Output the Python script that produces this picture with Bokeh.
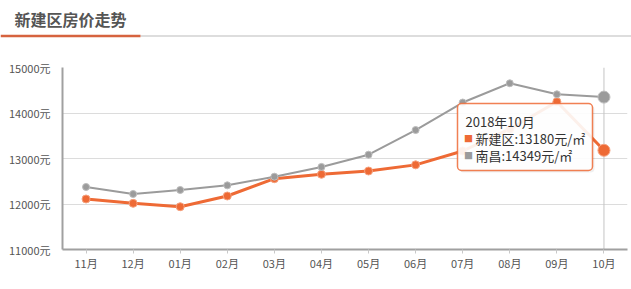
from bokeh.plotting import figure
from bokeh.models import FactorRange, Range1d, FixedTicker, BoxAnnotation, Label
from bokeh.layouts import column
from bokeh.core.properties import value
from bokeh.embed import file_html
from bokeh.resources import INLINE

# ---------------- data ----------------
months = ["11月", "12月", "01月", "02月", "03月", "04月", "05月", "06月", "07月", "08月", "09月", "10月"]
xinjian = [12110, 12015, 11940, 12176, 12556, 12653, 12725, 12860, 13165, 13650, 14248, 13180]
nanchang = [12374, 12220, 12308, 12410, 12600, 12815, 13084, 13626, 14230, 14653, 14411, 14349]
series_names = ["新建区", "南昌"]
y_ticks = [11000, 12000, 13000, 14000, 15000]
y_tick_labels = ["11000元", "12000元", "13000元", "14000元", "15000元"]
title_text = "新建区房价走势"
tooltip_title = "2018年10月"
unit = "元/㎡"

FONT = "Noto Sans CJK SC"
ORANGE = "#ee6a35"
GRAY = "#9b9b9b"
TITLE_ORANGE = "#d6633f"


def no_align(fig):
    if "frame_align" in fig.properties():
        fig.frame_align = False


# ---------------- title strip ----------------
t = figure(width=631, height=45, x_range=Range1d(0, 631), y_range=Range1d(45, 0),
           output_backend="svg", toolbar_location=None, min_border=0,
           x_axis_type=None, y_axis_type=None, outline_line_color=None)
t.grid.visible = False
no_align(t)
t.segment(x0=[140], y0=[35.6], x1=[631], y1=[35.6], line_color="#dddddd", line_width=2)
t.segment(x0=[0], y0=[35.6], x1=[140], y1=[35.6], line_color=TITLE_ORANGE, line_width=2.5)
t.text(x=[14], y=[18.5], text=[title_text], text_font=value(FONT), text_font_style="bold",
       text_font_size="16px", text_color="#555555", text_baseline="middle")

# ---------------- main chart ----------------
p = figure(width=631, height=240, x_range=FactorRange(factors=months),
           y_range=Range1d(y_ticks[0], y_ticks[-1]),
           output_backend="svg", toolbar_location=None,
           min_border_left=62, min_border_right=4, min_border_top=22, min_border_bottom=36)
p.outline_line_color = None
no_align(p)

p.xgrid.grid_line_color = None
p.ygrid.grid_line_color = "#dcdcdc"
p.ygrid.grid_line_width = 1

p.yaxis.ticker = FixedTicker(ticks=y_ticks)
p.yaxis.major_label_overrides = dict(zip(y_ticks, y_tick_labels))
p.yaxis.major_tick_line_color = None
p.yaxis.minor_tick_line_color = None
p.yaxis.major_label_standoff = 6

p.xaxis.major_tick_line_color = "#c8c8c8"
p.xaxis.major_tick_out = 4
p.xaxis.major_tick_in = 0
p.xaxis.major_label_standoff = 1

for ax in (p.xaxis, p.yaxis):
    ax.axis_line_color = "#a0a0a0"
    ax.axis_line_width = 2
    ax.major_label_text_font = FONT
    ax.major_label_text_font_size = "11px"
    ax.major_label_text_color = "#555555"

# hover crosshair at last month
p.segment(x0=[months[-1]], y0=[y_ticks[0]], x1=[months[-1]], y1=[y_ticks[-1]],
          line_color="#c4c4c4", line_width=1)

# series
p.line(months, xinjian, line_color=ORANGE, line_width=3)
p.scatter(months[:-1], xinjian[:-1], size=8, fill_color=ORANGE, line_color="#f6a27f", line_width=1)
p.line(months, nanchang, line_color=GRAY, line_width=2)
p.scatter(months[:-1], nanchang[:-1], size=7, fill_color=GRAY, line_color="#bdbdbd", line_width=1)
p.scatter(months[-1:], xinjian[-1:], size=12, fill_color=ORANGE, line_color="#f6a27f", line_width=1)
p.scatter(months[-1:], nanchang[-1:], size=12, fill_color=GRAY, line_color="#bdbdbd", line_width=1)

# tooltip (screen units relative to frame: x from left, y from bottom)
scr = dict(left_units="screen", right_units="screen", top_units="screen", bottom_units="screen")
p.add_layout(BoxAnnotation(left=397, right=532, top=144, bottom=77, fill_color="#000000",
                           fill_alpha=0.06, line_color=None, border_radius=4, **scr))
p.add_layout(BoxAnnotation(left=395, right=530, top=146, bottom=79,
                           fill_color="white", fill_alpha=0.9,
                           line_color=ORANGE, line_alpha=0.85, line_width=1.5,
                           border_radius=4, **scr))
lbl_kw = dict(x_units="screen", y_units="screen", text_font=FONT, text_font_size="13px",
              text_color="#333333", text_baseline="middle")
p.add_layout(Label(x=403, y=128, text=tooltip_title, **lbl_kw))
p.add_layout(Label(x=413, y=111.5, text=f"{series_names[0]}:{xinjian[-1]}{unit}", **lbl_kw))
p.add_layout(Label(x=413, y=94.5, text=f"{series_names[1]}:{nanchang[-1]}{unit}", **lbl_kw))
p.add_layout(Label(x=406, y=111.5, text="■", x_units="screen", y_units="screen", text_font=FONT,
                   text_font_size="9px", text_color=ORANGE, text_align="center", text_baseline="middle"))
p.add_layout(Label(x=406, y=94.5, text="■", x_units="screen", y_units="screen", text_font=FONT,
                   text_font_size="9px", text_color=GRAY, text_align="center", text_baseline="middle"))

# ---------------- bottom rule ----------------
b = figure(width=631, height=4, x_range=Range1d(0, 631), y_range=Range1d(4, 0),
           output_backend="svg", toolbar_location=None, min_border=0,
           x_axis_type=None, y_axis_type=None, outline_line_color=None)
b.grid.visible = False
no_align(b)
b.segment(x0=[0], y0=[1.8], x1=[631], y1=[1.8], line_color="#e3e3e3", line_width=1.5)

layout = column(t, p, b, spacing=0)
open("out.html", "w").write(file_html(layout, INLINE))
